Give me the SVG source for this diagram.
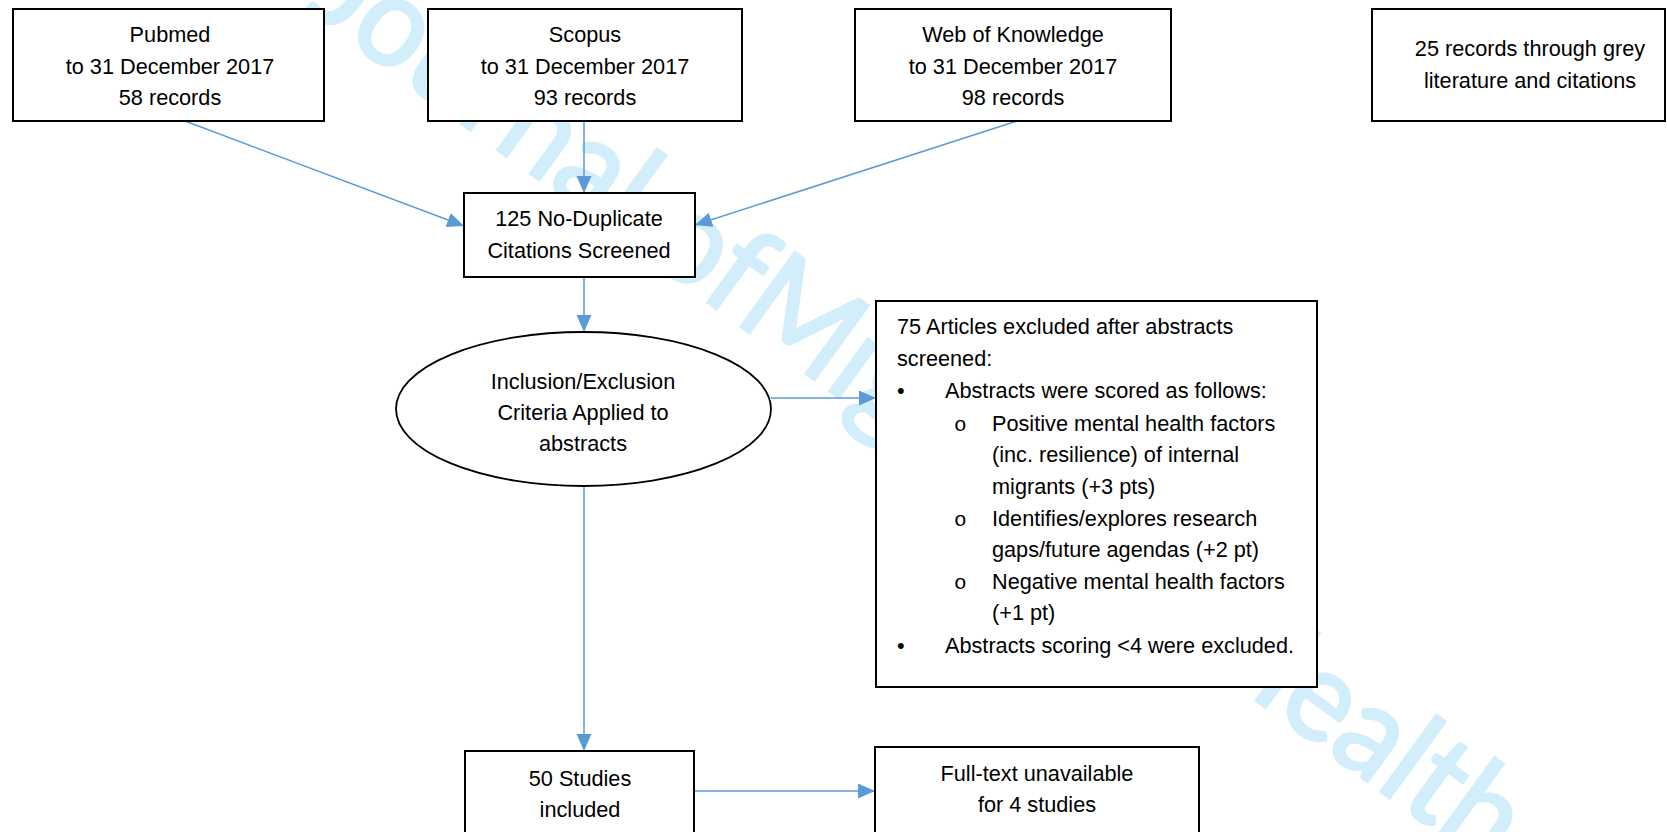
<svg xmlns="http://www.w3.org/2000/svg" width="1667" height="832" viewBox="0 0 1667 832">
<style>
.box{fill:#fff;stroke:#000;stroke-width:2}
.ell{fill:#fff;stroke:#000;stroke-width:1.8}
.t{font-family:"Liberation Sans",Arial,sans-serif;font-size:21.7px;fill:#000}
.c{text-anchor:middle}
.conn{stroke:#5B9BD5;stroke-width:1.5;fill:none;marker-end:url(#ah)}
.wm{font-family:Lato,"Open Sans",sans-serif;font-size:128px;fill:#D2EEFB;stroke:#D2EEFB;stroke-width:3}
.mono{font-family:"Liberation Mono","Courier New",monospace;font-size:21px;fill:#000}
</style>
<defs>
<marker id="ah" markerUnits="userSpaceOnUse" markerWidth="18" markerHeight="16" refX="17" refY="7.5" orient="auto">
<path d="M0,0 L17,7.5 L0,15 z" fill="#5B9BD5"/>
</marker>
</defs>
<rect width="1667" height="832" fill="#fff"/>
<g id="watermark">
<text class="wm" transform="translate(732,320) rotate(36) scale(0.95,1)" text-anchor="end">International Journal of </text>
<text class="wm" transform="translate(732,320) rotate(36) scale(0.95,1)">Migration, Health and Social Care</text>
</g>
<g id="connectors">
<line class="conn" x1="185" y1="121" x2="464" y2="226"/>
<line class="conn" x1="584" y1="121" x2="584" y2="193"/>
<line class="conn" x1="1017" y1="121" x2="695" y2="225"/>
<line class="conn" x1="584" y1="277" x2="584" y2="332"/>
<line class="conn" x1="771" y1="398" x2="876" y2="398"/>
<line class="conn" x1="584" y1="486" x2="584" y2="751"/>
<line class="conn" x1="694" y1="791" x2="875" y2="791"/>
</g>
<g id="pubmed">
<rect class="box" x="13" y="9" width="311" height="112"/>
<text class="t c" x="170" y="42">Pubmed</text>
<text class="t c" x="170" y="74">to 31 December 2017</text>
<text class="t c" x="170" y="105">58 records</text>
</g>
<g id="scopus">
<rect class="box" x="428" y="9" width="314" height="112"/>
<text class="t c" x="585" y="42">Scopus</text>
<text class="t c" x="585" y="74">to 31 December 2017</text>
<text class="t c" x="585" y="105">93 records</text>
</g>
<g id="wok">
<rect class="box" x="855" y="9" width="316" height="112"/>
<text class="t c" x="1013" y="42">Web of Knowledge</text>
<text class="t c" x="1013" y="74">to 31 December 2017</text>
<text class="t c" x="1013" y="105">98 records</text>
</g>
<g id="grey">
<rect class="box" x="1372" y="9" width="293" height="112"/>
<text class="t c" x="1530" y="56">25 records through grey</text>
<text class="t c" x="1530" y="88">literature and citations</text>
</g>
<g id="screened">
<rect class="box" x="464" y="193" width="231" height="84"/>
<text class="t c" x="579" y="226">125 No-Duplicate</text>
<text class="t c" x="579" y="258">Citations Screened</text>
</g>
<g id="criteria">
<ellipse class="ell" cx="583.5" cy="409" rx="187.5" ry="77"/>
<text class="t c" x="583" y="389">Inclusion/Exclusion</text>
<text class="t c" x="583" y="420">Criteria Applied to</text>
<text class="t c" x="583" y="451">abstracts</text>
</g>
<g id="excluded">
<rect class="box" x="876" y="301" width="441" height="386"/>
<text class="t" x="897" y="334">75 Articles excluded after abstracts</text>
<text class="t" x="897" y="366">screened:</text>
<text class="t" x="897" y="398">•</text>
<text class="t" x="945" y="398">Abstracts were scored as follows:</text>
<text class="mono" x="954" y="431">o</text>
<text class="t" x="992" y="431">Positive mental health factors</text>
<text class="t" x="992" y="462">(inc. resilience) of internal</text>
<text class="t" x="992" y="494">migrants (+3 pts)</text>
<text class="mono" x="954" y="526">o</text>
<text class="t" x="992" y="526">Identifies/explores research</text>
<text class="t" x="992" y="557">gaps/future agendas (+2 pt)</text>
<text class="mono" x="954" y="589">o</text>
<text class="t" x="992" y="589">Negative mental health factors</text>
<text class="t" x="992" y="620">(+1 pt)</text>
<text class="t" x="897" y="653">•</text>
<text class="t" x="945" y="653">Abstracts scoring &lt;4 were excluded.</text>
</g>
<g id="included">
<rect class="box" x="465" y="751" width="229" height="100"/>
<text class="t c" x="580" y="786">50 Studies</text>
<text class="t c" x="580" y="817">included</text>
</g>
<g id="fulltext">
<rect class="box" x="875" y="747" width="324" height="100"/>
<text class="t c" x="1037" y="781">Full-text unavailable</text>
<text class="t c" x="1037" y="812">for 4 studies</text>
</g>
</svg>
